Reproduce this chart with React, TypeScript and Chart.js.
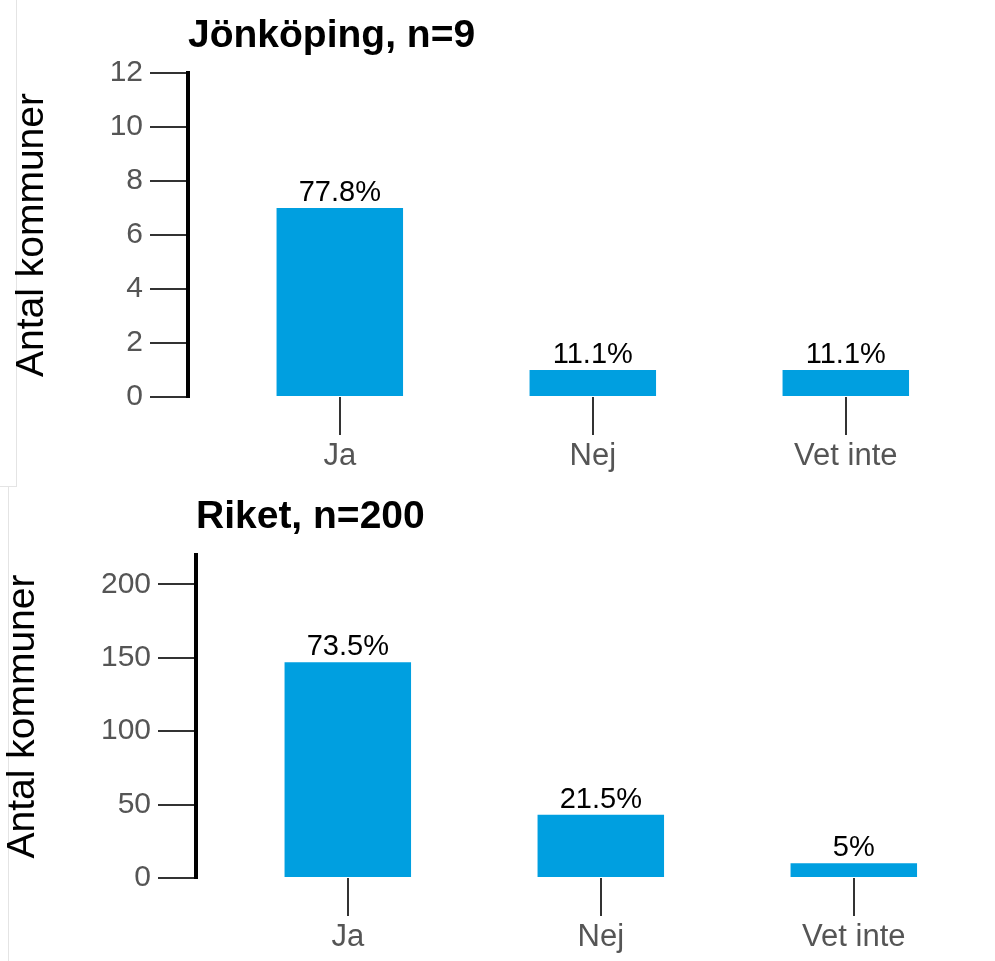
import React, { useEffect, useRef } from "react";
import { Chart, registerables } from "chart.js";

Chart.register(...registerables);

const categories = ["Ja", "Nej", "Vet inte"];

const titleTop = "Jönköping, n=9";
const valuesTop = [7, 1, 1];
const pctTop = ["77.8%", "11.1%", "11.1%"];
const yMaxTop = 12;
const yStepTop = 2;

const titleBottom = "Riket, n=200";
const valuesBottom = [147, 43, 10];
const pctBottom = ["73.5%", "21.5%", "5%"];
const yMaxBottom = 220;
const yStepBottom = 50;

const yAxisTitle = "Antal kommuner";
const BAR_COLOR = "#009FE0";
const FONT = "'Liberation Sans', Arial, sans-serif";

type PanelProps = {
  title: string;
  values: number[];
  pcts: string[];
  yMax: number;
  yStep: number;
  axisX: number;
  areaTop: number;
  areaBottom: number;
  height: number;
  titlePad: number;
  titleBaseline: number;
};

function Panel(p: PanelProps) {
  const ref = useRef<HTMLCanvasElement | null>(null);
  useEffect(() => {
    if (!ref.current) return;
    const width = 995;
    const unit = 253;
    const xMin = -0.6;
    const xMax = 2.5;
    const padRight = width - (p.axisX + (xMax - xMin) * unit);

    const overlay = {
      id: "overlay",
      afterDatasetsDraw(chart: any) {
        const ctx = chart.ctx;
        const meta = chart.getDatasetMeta(0);
        ctx.save();
        ctx.fillStyle = "#000";
        ctx.font = `29px ${FONT}`;
        ctx.textAlign = "center";
        ctx.textBaseline = "alphabetic";
        meta.data.forEach((bar: any, i: number) => {
          ctx.fillText(p.pcts[i], bar.x, bar.y - 7);
        });
        const ys = chart.scales.y;
        ctx.font = `bold 39px ${FONT}`;
        ctx.textAlign = "left";
        ctx.fillText(p.title, ys.right, p.titleBaseline);
        ctx.restore();
      },
    };

    const chart = new Chart(ref.current, {
      type: "bar",
      data: {
        datasets: [
          {
            data: p.values.map((v, i) => ({ x: i, y: v })),
            backgroundColor: BAR_COLOR,
            borderWidth: 0,
            categoryPercentage: 0.5,
            barPercentage: 1,
          },
        ],
      },
      options: {
        animation: false,
        responsive: false,
        maintainAspectRatio: false,
        layout: { padding: { top: p.areaTop, left: 0, right: padRight, bottom: 0 } },
        plugins: { legend: { display: false }, tooltip: { enabled: false }, title: { display: false } },
        scales: {
          x: {
            type: "linear",
            min: xMin,
            max: xMax,
            offset: false,
            afterBuildTicks: (s: any) => {
              s.ticks = categories.map((_, i) => ({ value: i }));
            },
            afterFit: (s: any) => {
              s.height = p.height - p.areaBottom;
            },
            border: { display: false },
            grid: { offset: false, drawOnChartArea: false, drawTicks: true, tickLength: 38, color: "#333", lineWidth: 2 },
            ticks: {
              padding: 3,
              color: "#555",
              font: { family: FONT, size: 31 },
              callback: (v: any) => categories[Number(v)] ?? "",
              maxRotation: 0,
              autoSkip: false,
            },
          },
          y: {
            min: 0,
            max: p.yMax,
            afterBuildTicks: (s: any) => {
              const t: any[] = [];
              for (let v = 0; v <= p.yMax; v += p.yStep) t.push({ value: v });
              s.ticks = t;
            },
            afterFit: (s: any) => {
              s.width = p.axisX;
            },
            border: { display: true, color: "#000", width: 4 },
            grid: { drawOnChartArea: false, drawTicks: true, tickLength: 38, color: "#333", lineWidth: 2 },
            ticks: {
              stepSize: p.yStep,
              padding: 7,
              color: "#555",
              font: { family: FONT, size: 30 },
            },
            title: {
              display: true,
              text: yAxisTitle,
              color: "#000",
              font: { family: FONT, size: 39 },
              padding: { top: p.titlePad, bottom: 0 },
            },
          },
        },
      },
      plugins: [overlay],
    });
    return () => chart.destroy();
  }, []);
  return <canvas ref={ref} width={995} height={p.height} style={{ display: "block", width: 995, height: p.height }} />;
}

export default function App() {
  return (
    <div style={{ position: "fixed", left: 0, top: 0, width: 995, height: 961, background: "#fff", overflow: "hidden" }}>
      <div style={{ position: "absolute", left: 16, top: 0, width: 1, height: 486, background: "#e4e4e4" }} />
      <div style={{ position: "absolute", left: 0, top: 486, width: 17, height: 1, background: "#e4e4e4" }} />
      <div style={{ position: "absolute", left: 8, top: 486, width: 1, height: 475, background: "#e4e4e4" }} />
      <div style={{ position: "absolute", left: 0, top: 0 }}>
        <Panel
          title={titleTop}
          values={valuesTop}
          pcts={pctTop}
          yMax={yMaxTop}
          yStep={yStepTop}
          axisX={188}
          areaTop={73}
          areaBottom={397}
          height={480}
          titlePad={9}
          titleBaseline={47}
        />
      </div>
      <div style={{ position: "absolute", left: 0, top: 480 }}>
        <Panel
          title={titleBottom}
          values={valuesBottom}
          pcts={pctBottom}
          yMax={yMaxBottom}
          yStep={yStepBottom}
          axisX={196}
          areaTop={75}
          areaBottom={398}
          height={481}
          titlePad={0}
          titleBaseline={48}
        />
      </div>
    </div>
  );
}
